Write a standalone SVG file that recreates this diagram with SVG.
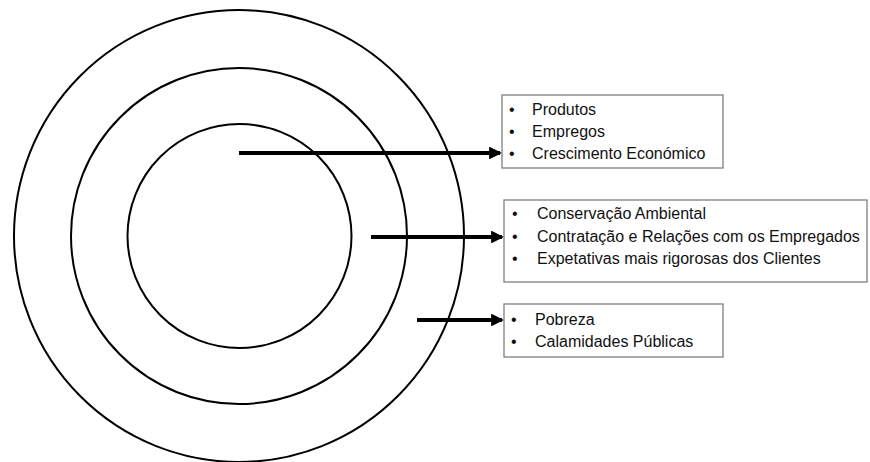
<svg xmlns="http://www.w3.org/2000/svg" width="870" height="462" viewBox="0 0 870 462">
<style>
.ring{fill:none;stroke:#000;stroke-width:2}
.box{fill:#fff;stroke:#7f7f7f;stroke-width:1.3}
.arr{stroke:#000;stroke-width:4;fill:none}
text{font-family:"Liberation Sans",Arial,sans-serif;font-size:16px;fill:#111}
</style>
<defs>
<marker id="ah" markerWidth="3.2" markerHeight="3.2" viewBox="0 0 4 4" refX="3.4" refY="2" orient="auto" markerUnits="strokeWidth">
<path d="M0,0 L4,2 L0,4 Z" fill="#000"/>
</marker>
</defs>
<rect width="870" height="462" fill="#fff"/>
<g id="rings">
<ellipse class="ring" cx="239" cy="236" rx="225" ry="226"/>
<ellipse class="ring" cx="239" cy="236" rx="168" ry="168"/>
<ellipse class="ring" cx="239.5" cy="236" rx="112" ry="112"/>
</g>
<g id="connectors">
<line class="arr" x1="239" y1="153" x2="500" y2="153" marker-end="url(#ah)"/>
<line class="arr" x1="371" y1="237" x2="502" y2="237" marker-end="url(#ah)"/>
<line class="arr" x1="417" y1="320" x2="502" y2="320" marker-end="url(#ah)"/>
</g>
<g id="box1">
<rect class="box" x="502" y="95" width="221" height="73"/>
<text x="509" y="115">•</text><text x="532" y="115">Produtos</text>
<text x="509" y="137">•</text><text x="532" y="137">Empregos</text>
<text x="509" y="159">•</text><text x="532" y="159">Crescimento Económico</text>
</g>
<g id="box2">
<rect class="box" x="504" y="200" width="363" height="82"/>
<text x="512" y="219">•</text><text x="537" y="219">Conservação Ambiental</text>
<text x="512" y="242">•</text><text x="537" y="242">Contratação e Relações com os Empregados</text>
<text x="512" y="264">•</text><text x="537" y="264">Expetativas mais rigorosas dos Clientes</text>
</g>
<g id="box3">
<rect class="box" x="504" y="304" width="219" height="53"/>
<text x="511" y="325">•</text><text x="535" y="325">Pobreza</text>
<text x="511" y="347">•</text><text x="535" y="347">Calamidades Públicas</text>
</g>
</svg>
